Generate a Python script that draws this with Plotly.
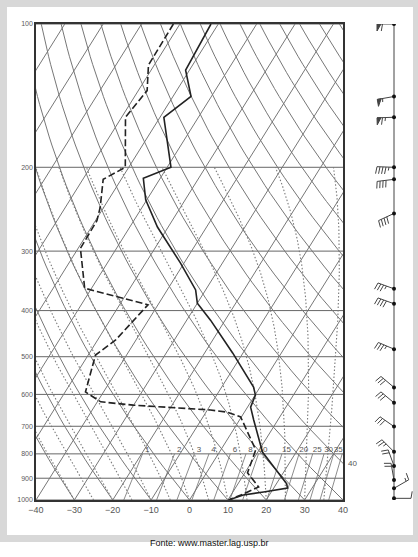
import numpy as np
import plotly.graph_objects as go

# ---------------- data ----------------
temp_p = [100, 125, 142, 157, 200, 211, 234, 267, 318, 362, 386, 419, 491, 579, 602, 638, 679, 793, 925, 944, 962, 976, 1000]
temp_c = [-71.9, -71.0, -65.3, -69.0, -59.0, -64.4, -60.3, -52.8, -40.9, -32.6, -30.0, -23.8, -12.7, -1.7, 0.1, 0.8, 3.7, 11.2, 22.7, 23.6, 18.0, 13.2, 10.2]

dewp_p = [100, 122, 138, 157, 200, 212, 243, 259, 296, 359, 389, 461, 496, 539, 593, 622, 632, 647, 654, 669, 738, 785, 877, 939, 971, 1000]
dewp_c = [-81.7, -81.5, -77.7, -79.0, -70.9, -74.7, -70.9, -69.6, -69.4, -61.8, -42.6, -45.3, -48.1, -46.6, -44.7, -39.1, -30.1, -9.2, -4.4, -0.2, 5.6, 9.1, 10.7, 15.9, 13.1, 10.2]

wind_p = [100, 142, 157, 200, 212, 250, 360, 387, 482, 580, 625, 701, 792, 848, 908, 945, 992]
wind_dir = [270, 260, 268, 272, 263, 245, 290, 290, 293, 310, 310, 305, 315, 340, 350, 60, 90]
wind_kt = [60, 55, 65, 45, 40, 40, 35, 40, 35, 30, 30, 30, 25, 20, 20, 15, 10]

x_ticks = [-40, -30, -20, -10, 0, 10, 20, 30, 40]
x_tick_text = ["\u221240", "\u221230", "\u221220", "\u221210", "0", "10", "20", "30", "40"]
p_ticks = [100, 200, 300, 400, 500, 600, 700, 800, 900, 1000]
p_tick_text = ["100", "200", "300", "400", "500", "600", "700", "800", "900", "1000"]
mix_ratios = [1, 2, 3, 4, 6, 8, 10, 15, 20, 25, 30, 35, 40]
mix_labels = ["1", "2", "3", "4", "6", "8", "10", "15", "20", "25", "30", "35", "40"]

# ---------------- diagram geometry ----------------
K = 77.5  # skew, degC of x-shift per decade of pressure


def skewx(T, p):
    return np.asarray(T, float) + K * np.log10(1000.0 / np.asarray(p, float))


def join(lines):
    xs, ys = [], []
    for x, y in lines:
        xs += list(x) + [None]
        ys += list(y) + [None]
    return xs, ys


GRID = "#777777"
FONT = "Liberation Sans, Arial, sans-serif"
fig = go.Figure()

# isobars
lines = [(np.array([-40.0, 40.0]), np.array([p, p], float)) for p in p_ticks]
xs, ys = join(lines)
fig.add_trace(go.Scatter(x=xs, y=ys, mode="lines", line=dict(color="#666666", width=1), hoverinfo="skip", showlegend=False))

# isotherms
lines = []
for T in range(-160, 50, 10):
    p = np.array([1000.0, 100.0])
    lines.append((skewx([T, T], p), p))
xs, ys = join(lines)
fig.add_trace(go.Scatter(x=xs, y=ys, mode="lines", line=dict(color=GRID, width=1), hoverinfo="skip", showlegend=False))

# dry adiabats
pp = np.logspace(3, 2, 60)
lines = []
for th in range(-40, 200, 10):
    T = (th + 273.15) * (pp / 1000.0) ** 0.2857 - 273.15
    lines.append((skewx(T, pp), pp))
xs, ys = join(lines)
fig.add_trace(go.Scatter(x=xs, y=ys, mode="lines", line=dict(color=GRID, width=1), hoverinfo="skip", showlegend=False))

# moist adiabats (1000 -> 200 hPa)
Rd, Cp, Lv, eps = 287.04, 1005.7, 2.501e6, 0.622


def es(Tk):
    Tc = Tk - 273.15
    return 6.112 * np.exp(17.67 * Tc / (Tc + 243.5))


def dTdp(Tk, p):
    e = es(Tk)
    rs = eps * e / (p - e)
    return (Rd * Tk + Lv * rs) / (Cp + Lv * Lv * rs * eps / (Rd * Tk * Tk)) / p


pm = np.linspace(1000, 200, 321)
starts = np.arange(-30, 46, 5).astype(float) + 273.15
Ts = [starts.copy()]
Tcur = starts.copy()
for i in range(len(pm) - 1):
    dp = pm[i + 1] - pm[i]
    k1 = dTdp(Tcur, pm[i])
    k2 = dTdp(Tcur + 0.5 * dp * k1, pm[i] + 0.5 * dp)
    k3 = dTdp(Tcur + 0.5 * dp * k2, pm[i] + 0.5 * dp)
    k4 = dTdp(Tcur + dp * k3, pm[i + 1])
    Tcur = Tcur + dp * (k1 + 2 * k2 + 2 * k3 + k4) / 6
    Ts.append(Tcur.copy())
Ts = np.array(Ts) - 273.15
lines = [(skewx(Ts[:, j], pm), pm) for j in range(Ts.shape[1])]
xs, ys = join(lines)
fig.add_trace(go.Scatter(x=xs, y=ys, mode="lines", line=dict(color="#7a7a7a", width=1.1, dash="1.5px,2px"), hoverinfo="skip", showlegend=False))

# mixing ratio lines
pw = np.linspace(1000, 800, 20)
lines = []
lab_x = []
for w in mix_ratios:
    e = w * pw / (622.0 + w)
    a = np.log(e / 6.112)
    Td = 243.5 * a / (17.67 - a)
    lines.append((skewx(Td, pw), pw))
    lab_x.append(float(skewx(Td[-1], pw[-1])))
xs, ys = join(lines)
fig.add_trace(go.Scatter(x=xs, y=ys, mode="lines", line=dict(color="#6e6e6e", width=0.8), hoverinfo="skip", showlegend=False))
fig.add_trace(go.Scatter(x=[min(v + 1.2, 40.5) for v in lab_x[:-1]], y=[785] * (len(lab_x) - 1), mode="text",
                         text=mix_labels[:-1], textfont=dict(size=8, color="#555", family=FONT),
                         cliponaxis=False, hoverinfo="skip", showlegend=False))

# sounding
fig.add_trace(go.Scatter(x=skewx(temp_c, temp_p), y=temp_p, mode="lines", line=dict(color="#222", width=1.6),
                         hoverinfo="skip", showlegend=False))
fig.add_trace(go.Scatter(x=skewx(dewp_c, dewp_p), y=dewp_p, mode="lines",
                         line=dict(color="#222", width=1.6, dash="7px,3px"), hoverinfo="skip", showlegend=False))

# ---------------- wind barbs (x2 in pixel units, y2 = pressure) ----------------
PX_PER_DEC = 476.0
XC = 394.0


def pshift(p, dy):
    return p * 10 ** (dy / PX_PER_DEC)


seg_x, seg_y, tri_x, tri_y = [], [], [], []
for p, d, s in zip(wind_p, wind_dir, wind_kt):
    r = np.radians(d)
    sx, sy = np.sin(r), -np.cos(r)
    fx, fy = sy, -sx
    L, FL, SP = 17.0, 7.0, 3.0
    seg_x += [XC, XC + L * sx, None]
    seg_y += [p, pshift(p, L * sy), None]
    pos = L
    rem = s
    while rem >= 50:
        bx, by = XC + pos * sx, pos * sy
        ix, iy = XC + (pos - 4) * sx, (pos - 4) * sy
        ax, ay = bx + FL * fx, by + FL * fy
        tri_x += [bx, ax, ix, bx, None]
        tri_y += [pshift(p, by), pshift(p, ay), pshift(p, iy), pshift(p, by), None]
        pos -= 5.5
        rem -= 50
    while rem >= 10:
        bx, by = XC + pos * sx, pos * sy
        seg_x += [bx, bx + FL * fx + 1.2 * sx, None]
        seg_y += [pshift(p, by), pshift(p, by + FL * fy + 1.2 * sy), None]
        pos -= SP
        rem -= 10
    if rem >= 5:
        bx, by = XC + pos * sx, pos * sy
        seg_x += [bx, bx + 0.5 * FL * fx + 0.6 * sx, None]
        seg_y += [pshift(p, by), pshift(p, by + 0.5 * FL * fy + 0.6 * sy), None]

fig.add_trace(go.Scatter(x=[XC, XC], y=[100, 1000], mode="lines", line=dict(color="#444", width=1),
                         xaxis="x2", yaxis="y2", hoverinfo="skip", showlegend=False))
fig.add_trace(go.Scatter(x=seg_x, y=seg_y, mode="lines", line=dict(color="#444", width=1),
                         xaxis="x2", yaxis="y2", hoverinfo="skip", showlegend=False))
fig.add_trace(go.Scatter(x=tri_x, y=tri_y, mode="lines", fill="toself", fillcolor="#444", line=dict(color="#444", width=1),
                         xaxis="x2", yaxis="y2", hoverinfo="skip", showlegend=False))
fig.add_trace(go.Scatter(x=[XC] * len(wind_p), y=wind_p, mode="markers", marker=dict(color="#111", size=4),
                         xaxis="x2", yaxis="y2", hoverinfo="skip", showlegend=False))

# ---------------- layout ----------------
W, H = 418, 557
ML, MR, MT, MB = 36, 0, 24, 57
PW, PH = W - ML - MR, H - MT - MB
right_px = 343


def px(x):
    return (x - ML) / PW


def py(y):
    return (H - MB - y) / PH


shapes = [
    dict(type="rect", xref="paper", yref="paper", x0=px(0), x1=px(418), y0=py(542), y1=py(0),
         fillcolor="#d8d8d8", line=dict(width=0), layer="below"),
    dict(type="rect", xref="paper", yref="paper", x0=px(7), x1=px(413), y0=py(535), y1=py(7),
         fillcolor="white", line=dict(width=0), layer="below"),
]

fig.update_layout(
    template="none",
    width=W, height=H, autosize=False,
    margin=dict(l=ML, r=MR, t=MT, b=MB, pad=0),
    paper_bgcolor="white", plot_bgcolor="rgba(0,0,0,0)",
    shapes=shapes,
    xaxis=dict(domain=[0, px(right_px)], range=[-40, 40], tickvals=x_ticks, ticktext=x_tick_text,
               showgrid=False, zeroline=False, showline=True, mirror=True, linecolor="#333", linewidth=1.5,
               ticks="", automargin=False, tickfont=dict(size=9, color="#555555", family=FONT)),
    yaxis=dict(type="log", range=[3, 2], tickvals=p_ticks, ticktext=p_tick_text,
               showgrid=False, zeroline=False,
               showline=True, mirror=True, linecolor="#333", linewidth=1.5, ticks="", automargin=False,
               tickfont=dict(size=7, color="#5a5a5a", family=FONT)),
    xaxis2=dict(domain=[px(right_px), 1], range=[right_px, W], visible=False, anchor="y2", automargin=False),
    yaxis2=dict(type="log", range=[3, 2], domain=[0, 1], visible=False, anchor="x2", automargin=False),
    annotations=[
        dict(x=40, y=np.log10(840), xref="x", yref="y", text=mix_labels[-1], showarrow=False, xanchor="left", xshift=3,
             font=dict(size=8, color="#555", family=FONT)),
        dict(xref="paper", yref="paper", x=px(209), y=py(550), text="Fonte: www.master.lag.usp.br",
             showarrow=False, font=dict(size=9, color="#111", family=FONT)),
    ],
)

fig.write_html("out.html", config={"displayModeBar": False},
               post_script="document.body.style.margin='0';document.body.style.padding='0';")
